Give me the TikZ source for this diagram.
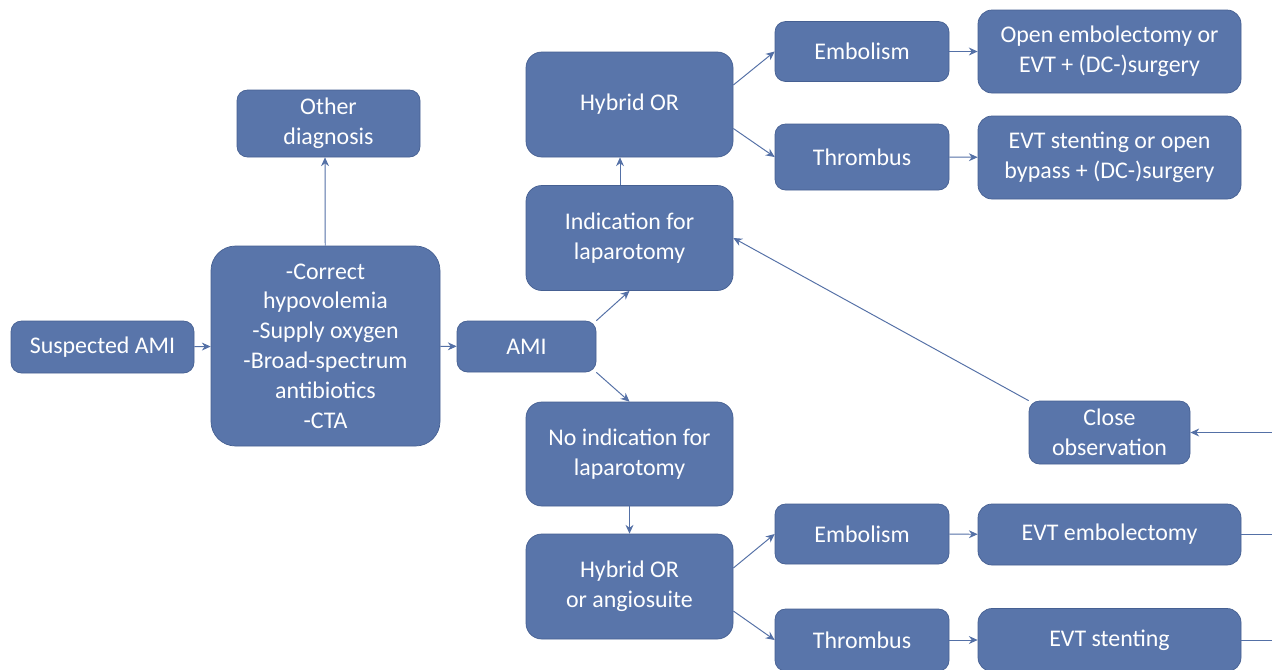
\documentclass[tikz,border=0pt]{standalone}
\usepackage{fontspec}
\setmainfont{Carlito}
\usepackage{xcolor}
\usepackage{tikz}
\usetikzlibrary{arrows.meta,calc,positioning}
\definecolor{boxblue}{RGB}{89,117,170}
\definecolor{boxline}{RGB}{70,96,146}
\definecolor{arrowblue}{RGB}{84,112,166}

\begin{document}
\begin{tikzpicture}[every node/.style={draw=boxline, fill=boxblue, text=white, align=center, rounded corners=6pt, inner sep=2pt, font=\fontsize{13.6}{17}\selectfont},
	>={Stealth[length=5pt,width=4.5pt]}, every edge/.style={draw=arrowblue, line width=0.55pt}]
		
		\path[use as bounding box, fill=white] (0,0) rectangle (25.44,-13.38);
		
		\node[minimum width=3.66cm, minimum height=1.04cm] (sus) at (2.05,-6.94) {Suspected AMI};
		\node[minimum width=4.58cm, minimum height=4cm, rounded corners=14pt] (care) at (6.51,-6.92) {-Correct\\hypovolemia\\-Supply oxygen\\-Broad-spectrum\\antibiotics\\-CTA};
		\node[minimum width=3.66cm, minimum height=1.34cm] (other) at (6.57,-2.47) {Other\\diagnosis};
		\node[minimum width=2.78cm, minimum height=1.02cm] (ami) at (10.53,-6.93) {AMI};
		
		% laparotomy branch
		\node[minimum width=4.14cm, minimum height=2.1cm, rounded corners=9pt] (ind) at (12.59,-4.76) {Indication for\\laparotomy};
		\node[minimum width=4.14cm, minimum height=2.1cm, rounded corners=9pt] (hyb) at (12.59,-2.09) {Hybrid OR};
		\node[minimum width=3.48cm, minimum height=1.2cm] (emb1) at (17.24,-1.03) {Embolism};
		\node[minimum width=3.48cm, minimum height=1.32cm] (thr1) at (17.24,-3.14) {Thrombus};
		\node[minimum width=5.26cm, minimum height=1.66cm, rounded corners=8pt] (open) at (22.19,-1.03) {Open embolectomy or\\EVT + (DC-)surgery};
		\node[minimum width=5.26cm, minimum height=1.66cm, rounded corners=8pt] (bypass) at (22.19,-3.15) {EVT stenting or open\\bypass + (DC-)surgery};
		
		% no laparotomy branch
		\node[minimum width=4.14cm, minimum height=2.08cm, rounded corners=9pt] (noind) at (12.59,-9.08) {No indication for\\laparotomy};
		\node[minimum width=4.14cm, minimum height=2.1cm, rounded corners=9pt] (hyb2) at (12.59,-11.73) {Hybrid OR\\or angiosuite};
		\node[minimum width=3.48cm, minimum height=1.2cm] (emb2) at (17.24,-10.68) {Embolism};
		\node[minimum width=3.48cm, minimum height=1.24cm] (thr2) at (17.24,-12.8) {Thrombus};
		\node[minimum width=5.26cm, minimum height=1.22cm, rounded corners=8pt] (evtemb) at (22.19,-10.69) {EVT embolectomy};
		\node[minimum width=5.26cm, minimum height=1.26cm, rounded corners=8pt] (evtst) at (22.19,-12.8) {EVT stenting};
		\node[minimum width=3.22cm, minimum height=1.26cm] (close) at (22.19,-8.65) {Close\\observation};
		
		\coordinate (r1) at (25.44,-8.65);
		\coordinate (r2) at (25.44,-10.69);
		\coordinate (r3) at (25.44,-12.8);
		
		\path[->]
		(sus) edge (care)
		(care) edge ([xshift=-0.07cm]other.south)
		(care) edge (ami)
		(ami.north east) edge (ind.south)
		(ami.south east) edge (noind.north)
		([xshift=-0.19cm]ind.north) edge ([xshift=-0.19cm]hyb.south)
		([yshift=0.39cm]hyb.east) edge (emb1.west)
		([yshift=-0.48cm]hyb.east) edge (thr1.west)
		(emb1) edge (open)
		(thr1) edge (bypass)
		(noind) edge (hyb2)
		([yshift=0.37cm]hyb2.east) edge (emb2.west)
		([yshift=-0.49cm]hyb2.east) edge (thr2.west)
		(emb2) edge (evtemb)
		(thr2) edge (evtst)
		(close.north west) edge (ind.east)
		(r1) edge (close)
		;
		\path
		(evtemb) edge (r2)
		(evtst) edge (r3)
		;
		\end{tikzpicture}
\end{document}
